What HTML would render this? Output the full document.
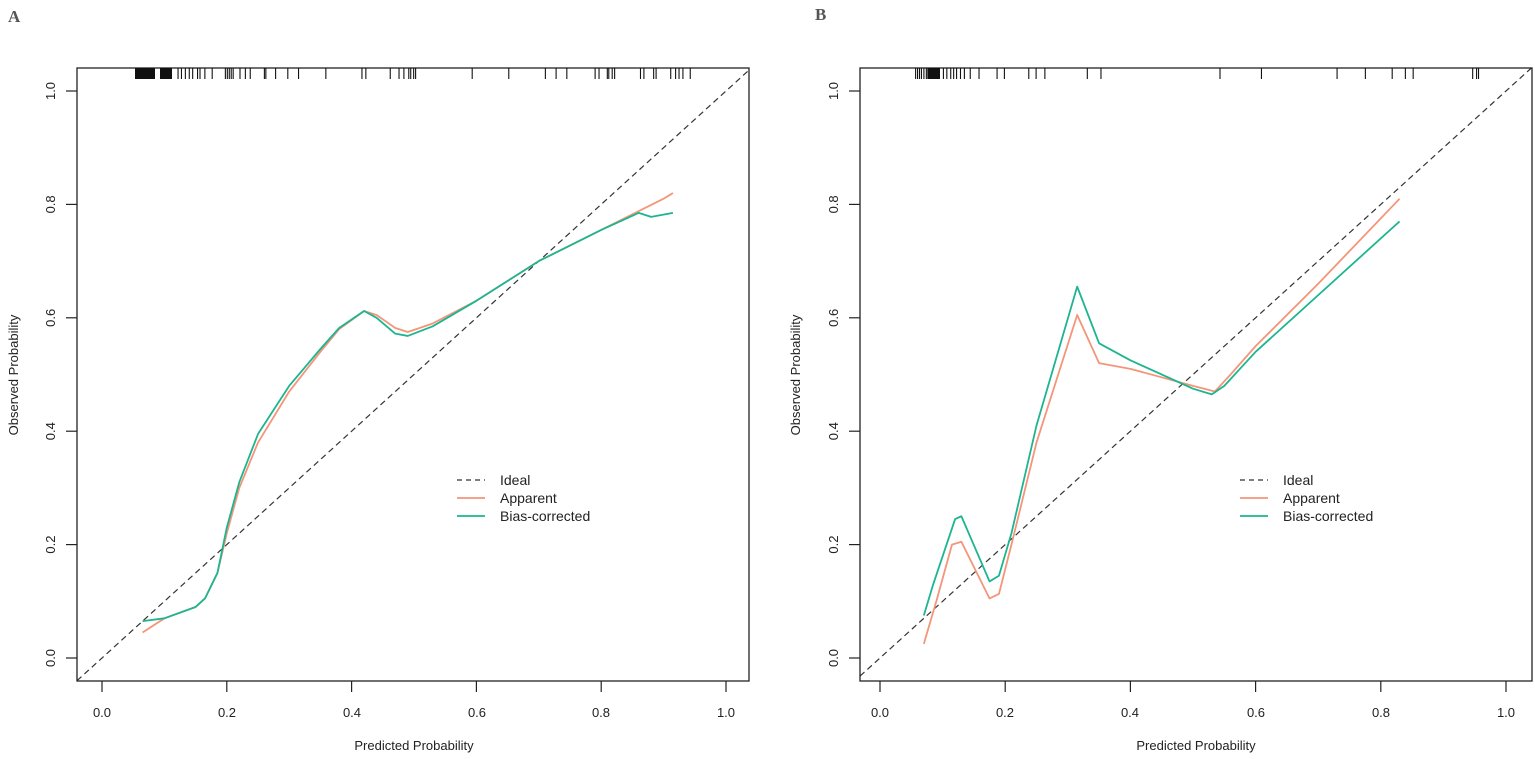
<!DOCTYPE html>
<html><head><meta charset="utf-8"><style>
html,body{margin:0;padding:0;background:#fff;}
svg{display:block;font-family:"Liberation Sans",Arial,sans-serif;}
</style></head><body>
<svg id="s" width="1535" height="759" viewBox="0 0 1535 759" xmlns="http://www.w3.org/2000/svg">
<text x="8" y="22" font-family="Liberation Serif,serif" font-weight="bold" font-size="17" fill="#555">A</text>
<text x="815" y="20" font-family="Liberation Serif,serif" font-weight="bold" font-size="17" fill="#555">B</text>
<g font-size="13" fill="#222">
<text x="102" y="717" text-anchor="middle">0.0</text><text x="227" y="717" text-anchor="middle">0.2</text><text x="352" y="717" text-anchor="middle">0.4</text><text x="477" y="717" text-anchor="middle">0.6</text><text x="601" y="717" text-anchor="middle">0.8</text><text x="726" y="717" text-anchor="middle">1.0</text>
<text x="880" y="717" text-anchor="middle">0.0</text><text x="1005" y="717" text-anchor="middle">0.2</text><text x="1130" y="717" text-anchor="middle">0.4</text><text x="1256" y="717" text-anchor="middle">0.6</text><text x="1381" y="717" text-anchor="middle">0.8</text><text x="1506" y="717" text-anchor="middle">1.0</text>
<text x="414" y="750" text-anchor="middle">Predicted Probability</text>
<text x="1196" y="750" text-anchor="middle">Predicted Probability</text>
<g transform="translate(18,375) rotate(-90)"><text text-anchor="middle">Observed  Probability</text></g>
<g transform="translate(800,375) rotate(-90)"><text text-anchor="middle">Observed  Probability</text></g>
</g>
<g id="yl" font-size="13" fill="#222"></g>
<g id="plot"></g>
<g font-size="14" fill="#222">
<text x="500" y="485">Ideal</text><text x="500" y="503">Apparent</text><text x="500" y="521">Bias-corrected</text>
<text x="1283" y="485">Ideal</text><text x="1283" y="503">Apparent</text><text x="1283" y="521">Bias-corrected</text>
</g>
</svg>
<script>
var NS="http://www.w3.org/2000/svg",plot=document.getElementById("plot"),yl=document.getElementById("yl");
function el(t,a,p){var e=document.createElementNS(NS,t);for(var k in a)e.setAttribute(k,a[k]);(p||plot).appendChild(e);return e;}
var Y=function(q){return 658-567*q;};
function panel(L,R,x0,x1,rug,app,bias){
 var X=function(p){return x0+(x1-x0)*p;};
 var pl=(L-x0)/(x1-x0),pr=(R-x0)/(x1-x0);
 var ql=(658-681)/567,qr=(658-68)/567;
 var a=Math.max(pl,ql),b=Math.min(pr,qr);
 el("line",{x1:X(a),y1:Y(a),x2:X(b),y2:Y(b),stroke:"#333","stroke-width":1.2,"stroke-dasharray":"6,4"});
 function line(pts,c){el("polyline",{points:pts.map(function(p){return X(p[0])+","+Y(p[1]);}).join(" "),fill:"none",stroke:c,"stroke-width":1.8,"stroke-linejoin":"round"});}
 line(app,"#f4957a");line(bias,"#1db58f");
 el("rect",{x:L,y:68,width:R-L,height:613,fill:"none",stroke:"#222","stroke-width":1.3});
 for(var i=0;i<=5;i++){var x=X(i*0.2);el("line",{x1:x,y1:681,x2:x,y2:692,stroke:"#222","stroke-width":1.2});}
 for(var i=0;i<=5;i++){var y=Y(i*0.2);el("line",{x1:L,y1:y,x2:L-11,y2:y,stroke:"#222","stroke-width":1.2});
  var g=el("g",{transform:"translate("+(L-22)+","+y+") rotate(-90)"},yl);var t=el("text",{"text-anchor":"middle",y:0},g);t.textContent=(i*0.2).toFixed(1);}
 rug.forEach(function(r){if(r.length==2){el("rect",{x:r[0],y:68,width:r[1]-r[0],height:11,fill:"#111"});}else el("line",{x1:r[0],y1:68,x2:r[0],y2:79,stroke:"#111","stroke-width":1.1});});
}
var ra=[[135,155],[160,172]].concat([365,372,380,388,395,405,410,420,435,462,466,470,474,478,492,503,513,542,545,565,590,612,668,742,750,800,818,828,838,842,848,852,968,1043,1118,1140,1162,1220,1228,1245,1248,1255,1260,1313,1320,1340,1345,1375,1385,1392,1400,1415].map(function(v){return [v/2.05];}));
var rb=[[780+302/2.05,780+328/2.05]].concat([278,282,286,290,295,300,335,342,350,356,362,370,378,390,408,445,460,510,525,543,630,658,902,987,1142,1200,1255,1282,1298,1420,1428,1432].map(function(v){return [780+v/2.05];}));
panel(77,749,102,726,ra,
[[0.065,0.045],[0.1,0.07],[0.15,0.09],[0.165,0.105],[0.185,0.15],[0.2,0.22],[0.22,0.3],[0.25,0.38],[0.3,0.47],[0.35,0.54],[0.38,0.58],[0.42,0.612],[0.44,0.605],[0.47,0.582],[0.49,0.575],[0.53,0.59],[0.6,0.63],[0.7,0.70],[0.8,0.755],[0.9,0.81],[0.915,0.82]],
[[0.065,0.065],[0.1,0.07],[0.15,0.09],[0.165,0.105],[0.185,0.15],[0.2,0.23],[0.22,0.31],[0.25,0.395],[0.3,0.48],[0.35,0.545],[0.38,0.582],[0.42,0.612],[0.44,0.6],[0.47,0.572],[0.49,0.568],[0.53,0.585],[0.6,0.63],[0.7,0.70],[0.8,0.755],[0.86,0.785],[0.88,0.778],[0.915,0.785]]);
panel(860,1532,880,1506,rb,
[[0.07,0.025],[0.09,0.1],[0.115,0.2],[0.13,0.205],[0.175,0.105],[0.19,0.113],[0.21,0.2],[0.25,0.38],[0.315,0.605],[0.35,0.52],[0.4,0.51],[0.5,0.48],[0.535,0.47],[0.56,0.5],[0.6,0.55],[0.7,0.66],[0.83,0.81]],
[[0.07,0.075],[0.085,0.13],[0.12,0.245],[0.13,0.25],[0.175,0.135],[0.19,0.145],[0.21,0.22],[0.25,0.41],[0.315,0.655],[0.35,0.555],[0.4,0.525],[0.5,0.475],[0.53,0.465],[0.55,0.48],[0.6,0.54],[0.7,0.64],[0.83,0.77]]);
[[457,485],[1240,1268]].forEach(function(l){
 el("line",{x1:l[0],y1:480,x2:l[1],y2:480,stroke:"#333","stroke-width":1.3,"stroke-dasharray":"5,4"});
 el("line",{x1:l[0],y1:498,x2:l[1],y2:498,stroke:"#f4957a","stroke-width":1.8});
 el("line",{x1:l[0],y1:516,x2:l[1],y2:516,stroke:"#1db58f","stroke-width":1.8});
});
</script>
</body></html>
